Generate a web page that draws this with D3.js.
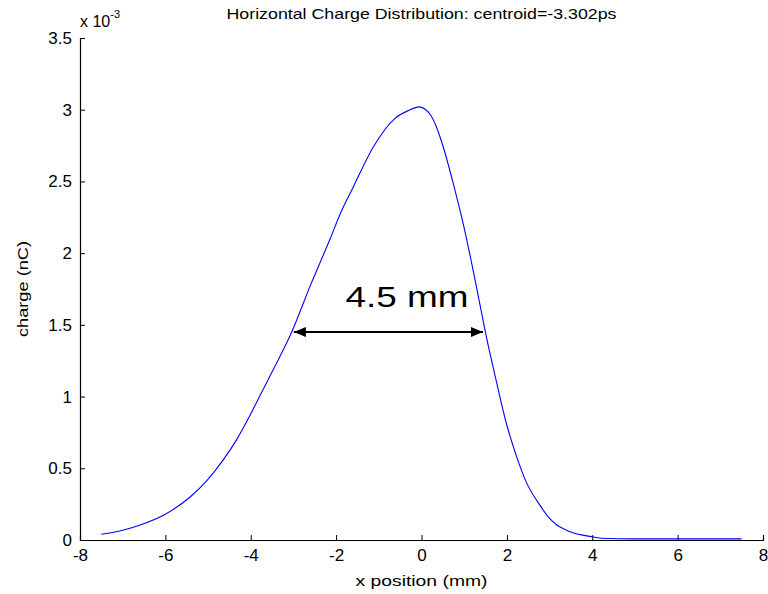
<!DOCTYPE html>
<html>
<head>
<meta charset="utf-8">
<script src="https://cdn.jsdelivr.net/npm/d3@7"></script>
<style>
  html, body { margin: 0; padding: 0; background: #fff; }
  svg { display: block; }
</style>
</head>
<body>
<div id="chart"></div>
<script>
// x positions (mm) and charge (x1e-3 nC)
const xPos = [-7.5, -7.0, -6.59, -6.0, -5.42, -5.07, -4.64, -4.33, -4.06, -3.78, -3.4, -3.04, -2.61,
  -2.14, -1.91, -1.60, -1.13, -0.62, -0.3, -0.05, 0.1, 0.22, 0.35, 0.51, 0.74, 0.98, 1.21, 1.41, 1.56,
  1.72, 2.0, 2.23, 2.46, 2.78, 3.0, 3.17, 3.35, 3.55, 3.95, 4.2, 5, 6, 7, 7.5];
const charge = [0.04, 0.068, 0.105, 0.18, 0.30, 0.40, 0.56, 0.70, 0.845, 1.01, 1.23, 1.45, 1.77,
  2.10, 2.27, 2.46, 2.74, 2.94, 2.995, 3.02, 3.0, 2.96, 2.88, 2.74, 2.49, 2.20, 1.88, 1.58, 1.36,
  1.15, 0.80, 0.58, 0.40, 0.24, 0.15, 0.105, 0.075, 0.05, 0.025, 0.012, 0.008, 0.008, 0.008, 0.008]
  .map(v => v * 1e-3);
const xTicks = [-8, -6, -4, -2, 0, 2, 4, 6, 8];
const yTicks = [0, 0.5, 1, 1.5, 2, 2.5, 3, 3.5];
// FWHM marker (mm) at half height
const fwhm = [-2.99, 1.44];
const fwhmLevel = 1.45e-3;

const W = 768, H = 594, mL = 80, mR = 5, mT = 38, mB = 54;
const FONT = 'Liberation Sans, Arial, Helvetica, sans-serif';
const svg = d3.select('#chart').append('svg').attr('width', W).attr('height', H);
const x = d3.scaleLinear().domain([-8, 8]).range([mL, W - mR]);
const y = d3.scaleLinear().domain([0, 3.5e-3]).range([H - mB, mT]);
const pts = xPos.map((v, i) => ({ x: v, y: charge[i] }));

// axes: ticks point inward, MATLAB style
const xAxis = d3.axisBottom(x).tickValues(xTicks).tickSize(-5).tickPadding(9).tickFormat(d => String(d));
const yAxis = d3.axisLeft(y).tickValues(yTicks.map(v => v * 1e-3)).tickSize(-5).tickPadding(8)
  .tickFormat(d => String(+(d * 1e3).toFixed(2)));
const gx = svg.append('g').attr('transform', `translate(0,${H - mB})`).call(xAxis);
const gy = svg.append('g').attr('transform', `translate(${mL},0)`).call(yAxis);
[gx, gy].forEach(g => {
  g.select('.domain').attr('stroke', '#000').attr('stroke-width', 1.2);
  g.selectAll('.tick line').attr('stroke', '#000');
  g.selectAll('text').attr('font-family', FONT).attr('font-size', 17).attr('fill', '#000');
});
gx.selectAll('text').attr('dy', '0.71em');

const line = d3.line().x(d => x(d.x)).y(d => y(d.y)).curve(d3.curveMonotoneX);
svg.append('path').datum(pts).attr('d', line).attr('fill', 'none')
  .attr('stroke', '#0000ff').attr('stroke-width', 1.1);

// arrow for the FWHM
const defs = svg.append('defs');
defs.append('marker').attr('id', 'ah').attr('viewBox', '0 0 12 10').attr('refX', 12).attr('refY', 5)
  .attr('markerWidth', 12).attr('markerHeight', 10).attr('markerUnits', 'userSpaceOnUse')
  .attr('orient', 'auto-start-reverse')
  .append('path').attr('d', 'M0,0 L12,5 L0,10 Z').attr('fill', '#000');
svg.append('line').attr('x1', x(fwhm[0])).attr('x2', x(fwhm[1]))
  .attr('y1', y(fwhmLevel)).attr('y2', y(fwhmLevel))
  .attr('stroke', '#000').attr('stroke-width', 2)
  .attr('marker-start', 'url(#ah)').attr('marker-end', 'url(#ah)');

// text with glyphs stretched a little sideways, like the original export
const label = (sel, len) => sel.attr('font-family', FONT).attr('text-anchor', 'middle')
  .attr('textLength', len).attr('lengthAdjust', 'spacingAndGlyphs');
label(svg.append('text').attr('x', 407).attr('y', 307).attr('font-size', 30), 123).text('4.5 mm');
label(svg.append('text').attr('x', x(0)).attr('y', 19).attr('font-size', 15), 390)
  .text('Horizontal Charge Distribution: centroid=-3.302ps');
label(svg.append('text').attr('x', x(0)).attr('y', 586).attr('font-size', 15), 132).text('x position (mm)');
label(svg.append('text').attr('transform', 'translate(28,289) rotate(-90)').attr('font-size', 15), 96)
  .text('charge (nC)');

// exponent label
const ex = svg.append('text').attr('x', 80).attr('y', 27).attr('font-family', FONT).attr('font-size', 16);
ex.append('tspan').text('x 10');
ex.append('tspan').attr('dy', -9).attr('font-size', 11).text('-3');
</script>
</body>
</html>
